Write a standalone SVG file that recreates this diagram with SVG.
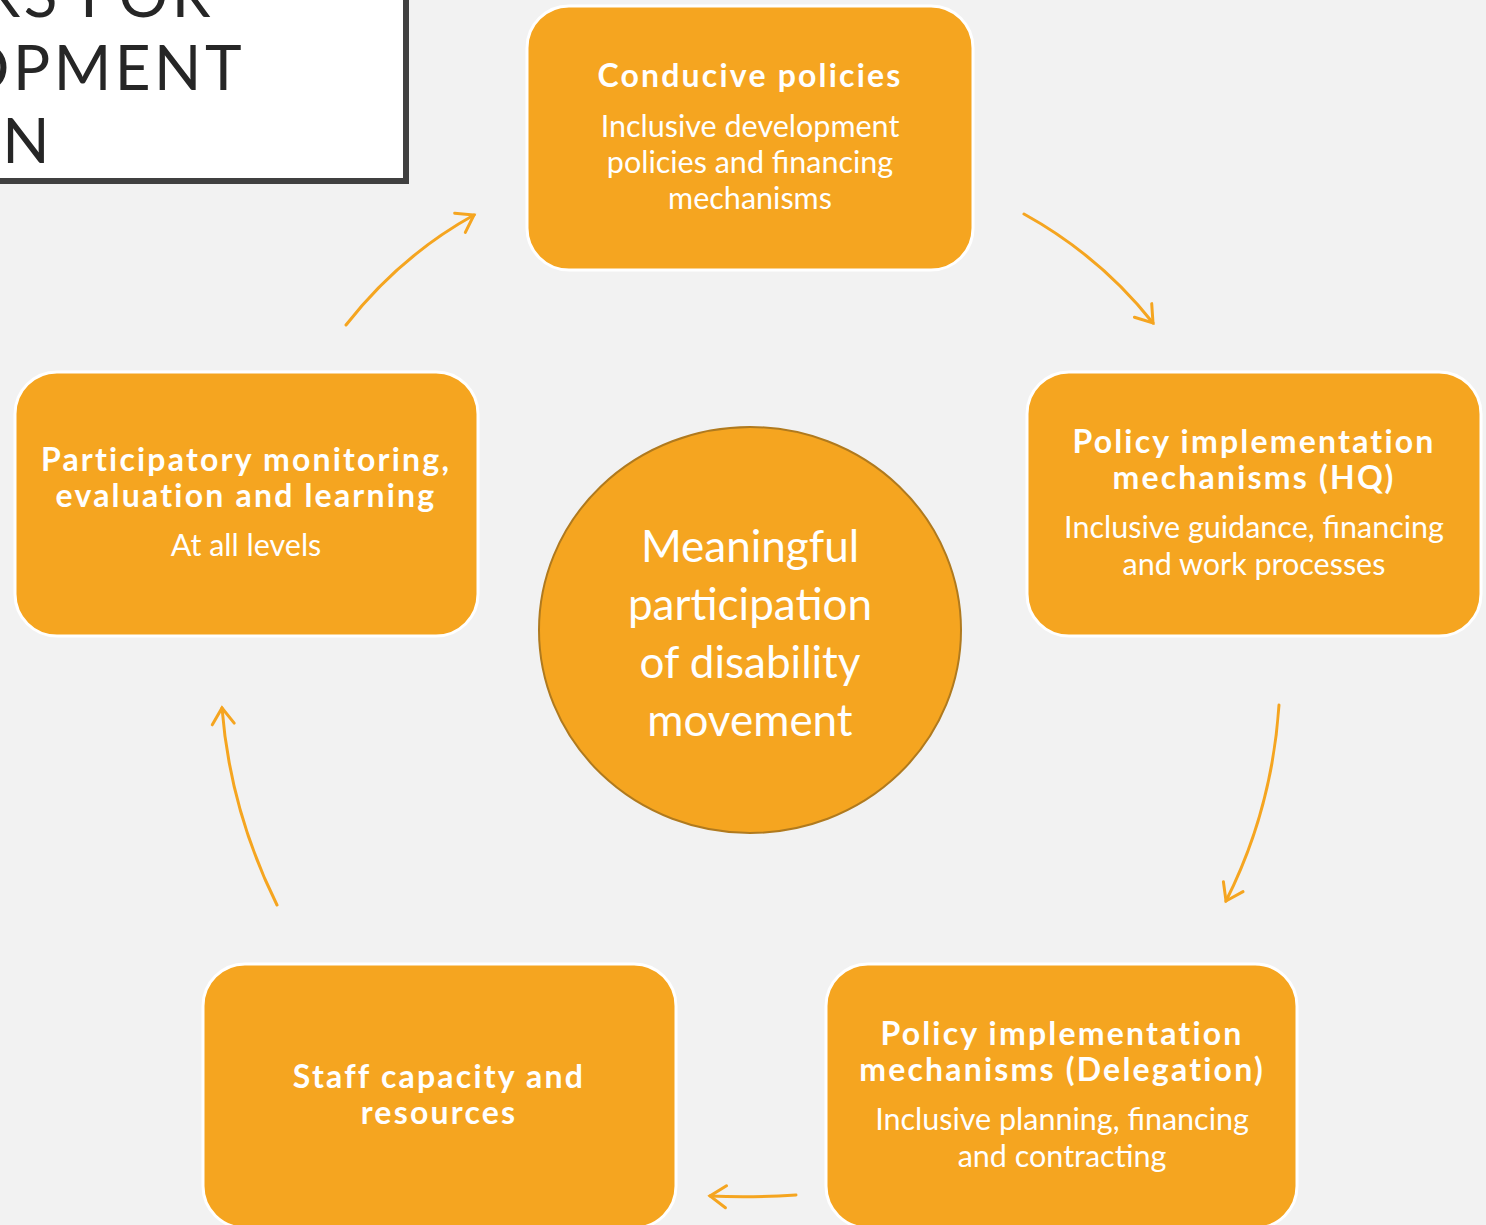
<svg xmlns="http://www.w3.org/2000/svg" width="1486" height="1225" viewBox="0 0 1486 1225">
<style>
.box{fill:#F5A520;stroke:#ffffff;stroke-width:3}
.hd{font-family:Lato,"Noto Sans",sans-serif;font-weight:bold;font-size:32px;letter-spacing:2.2px;fill:#ffffff;text-anchor:middle}
.tx{font-family:Lato,"Noto Sans",sans-serif;font-size:30.5px;fill:#ffffff;text-anchor:middle}
.ct{font-family:Lato,"Noto Sans",sans-serif;font-size:44px;fill:#ffffff;text-anchor:middle}
.ttl{font-family:Lato,"Noto Sans",sans-serif;font-size:62px;fill:#262626;letter-spacing:3.5px}
.con{fill:none;stroke:#F5A520;stroke-width:3;stroke-linecap:round}
</style>
<defs>
<marker id="ah" markerUnits="userSpaceOnUse" markerWidth="24" markerHeight="30" viewBox="-20 -15 24 30" refX="0" refY="0" orient="auto">
<path d="M-16,-11 L0,0 L-16,11" fill="none" stroke="#F5A520" stroke-width="3" stroke-linecap="round" stroke-linejoin="miter"/>
</marker>
</defs>
<rect x="0" y="0" width="1486" height="1225" fill="#F2F2F2"/>
<g id="title">
<rect x="-10" y="-10" width="416" height="191" fill="#ffffff" stroke="#404040" stroke-width="6"/>
<text class="ttl" x="214" y="17" text-anchor="end">RS FOR</text>
<text class="ttl" x="245" y="90" text-anchor="end">OPMENT</text>
<text class="ttl" x="53" y="163" text-anchor="end">N</text>
</g>
<g id="connectors">
<path class="con" d="M346,325 Q400,256 474,215" marker-end="url(#ah)"/>
<path class="con" d="M1024,214 Q1100,256 1153,323" marker-end="url(#ah)"/>
<path class="con" d="M1279,705 Q1272,810 1226,901" marker-end="url(#ah)"/>
<path class="con" d="M796,1195 Q750,1198 710,1196" marker-end="url(#ah)"/>
<path class="con" d="M277,905 Q230,810 222,708" marker-end="url(#ah)"/>
</g>
<g id="center">
<ellipse cx="750" cy="630" rx="211" ry="203" fill="#F5A520" stroke="#B07A1E" stroke-width="2"/>
<text class="ct" x="750" y="562">Meaningful</text>
<text class="ct" x="750" y="620">participation</text>
<text class="ct" x="750" y="678">of disability</text>
<text class="ct" x="750" y="736">movement</text>
</g>
<g id="node-conducive">
<rect class="box" x="527" y="6" width="446" height="264" rx="42"/>
<text class="hd" x="750" y="87">Conducive policies</text>
<text class="tx" x="750" y="137">Inclusive development</text>
<text class="tx" x="750" y="173">policies and financing</text>
<text class="tx" x="750" y="209">mechanisms</text>
</g>
<g id="node-hq">
<rect class="box" x="1027" y="372" width="454" height="264" rx="42"/>
<text class="hd" x="1254" y="453">Policy implementation</text>
<text class="hd" x="1254" y="489">mechanisms (HQ)</text>
<text class="tx" x="1254" y="538">Inclusive guidance, financing</text>
<text class="tx" x="1254" y="575">and work processes</text>
</g>
<g id="node-delegation">
<rect class="box" x="826" y="964" width="471" height="264" rx="42"/>
<text class="hd" x="1062" y="1045">Policy implementation</text>
<text class="hd" x="1062" y="1081">mechanisms (Delegation)</text>
<text class="tx" x="1062" y="1130">Inclusive planning, financing</text>
<text class="tx" x="1062" y="1167">and contracting</text>
</g>
<g id="node-staff">
<rect class="box" x="203" y="964" width="473" height="264" rx="42"/>
<text class="hd" x="439" y="1088">Staff capacity and</text>
<text class="hd" x="439" y="1124">resources</text>
</g>
<g id="node-monitoring">
<rect class="box" x="15" y="372" width="463" height="264" rx="42"/>
<text class="hd" x="246" y="471">Participatory monitoring,</text>
<text class="hd" x="246" y="507">evaluation and learning</text>
<text class="tx" x="246" y="556">At all levels</text>
</g>
</svg>
